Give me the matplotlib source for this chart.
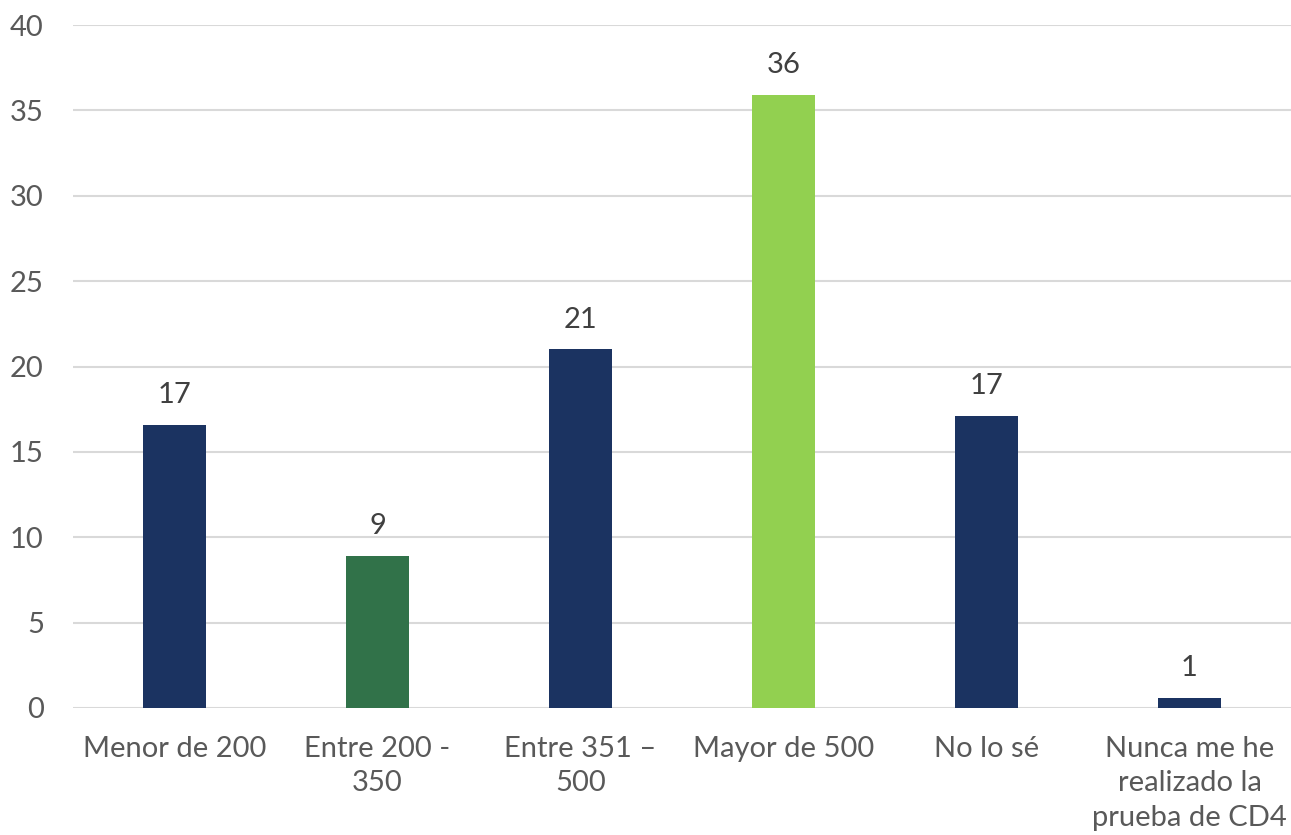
import matplotlib
matplotlib.use("Agg")
import matplotlib.pyplot as plt

categories = ["Menor de 200", "Entre 200 -\n350", "Entre 351 –\n500", "Mayor de 500",
              "No lo sé", "Nunca me he\nrealizado la\nprueba de CD4"]
values = [16.6, 8.9, 21.0, 35.9, 17.1, 0.6]
labels = ["17", "9", "21", "36", "17", "1"]
colors = ["#1B3361", "#317249", "#1B3361", "#92D050", "#1B3361", "#1B3361"]

plt.rcParams["font.family"] = ["Lato", "DejaVu Sans"]

fig = plt.figure(figsize=(12.91, 8.35), dpi=100)
ax = fig.add_axes([73 / 1291, 127 / 835, 1 - 73 / 1291, 683 / 835])

x = range(len(categories))
bars = ax.bar(x, values, width=0.315, color=colors, zorder=3)

for b, lab in zip(bars, labels):
    ax.annotate(lab, (b.get_x() + b.get_width() / 2, b.get_height()),
                xytext=(0, 12), textcoords="offset points",
                ha="center", va="bottom", fontsize=21, color="#404040")

ax.set_xlim(-0.5, len(categories) - 0.5)
ax.set_ylim(0, 40)
ax.set_yticks(range(0, 41, 5))
ax.set_xticks(list(x))
ax.set_xticklabels(categories, fontsize=21, color="#595959", linespacing=1.4)
ax.tick_params(axis="y", labelsize=21, labelcolor="#595959", length=0, pad=21)
ax.tick_params(axis="x", length=0, pad=20)

# light horizontal grid only
ax.grid(True, axis="y", color="#D9D9D9", linewidth=1.5, zorder=0)
ax.grid(False, axis="x")
for s in ax.spines.values():
    s.set_visible(False)

fig.savefig("out.png", dpi=100)
